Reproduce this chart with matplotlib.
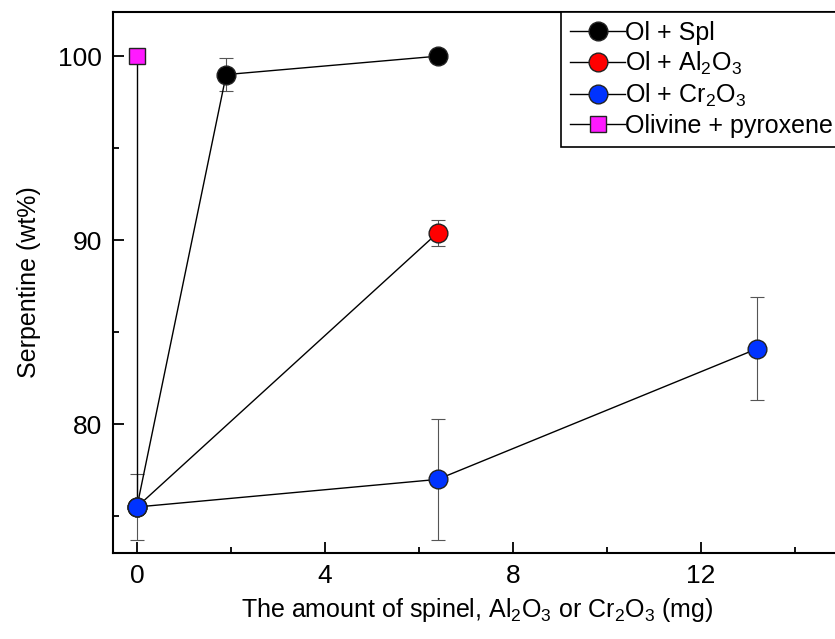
import matplotlib.pyplot as plt

plt.rcParams['font.family'] = ['Liberation Sans', 'DejaVu Sans']

# data
spl_x = [0, 1.9, 6.4]
spl_y = [75.5, 99.0, 100.0]
spl_err = [0, 0.9, 0]

al_x = [0, 6.4]
al_y = [75.5, 90.4]
al_err = [0, 0.7]

cr_x = [0, 6.4, 13.2]
cr_y = [75.5, 77.0, 84.1]
cr_err = [1.8, 3.3, 2.8]

px_x = [0, 0]
px_y = [100.0, 75.5]

fig = plt.figure(figsize=(8.35, 6.39), dpi=100)
ax = fig.add_axes([0.1353, 0.1346, 1.008 - 0.1353, 0.9812 - 0.1346])

sub = r'$\mathregular{_{%s}}$'
lab_al = 'Ol + Al' + sub % '2' + 'O' + sub % '3'
lab_cr = 'Ol + Cr' + sub % '2' + 'O' + sub % '3'

def draw(x, y, err, color, marker, label, ms=13.5):
    if err is not None:
        ax.errorbar(x, y, yerr=err, fmt='none', ecolor='#555555', elinewidth=0.8,
                    capsize=5, capthick=0.8, zorder=1)
    ax.plot(x, y, color='black', lw=1, marker=marker, ms=ms, mfc=color,
            mec='#222222', mew=1, label=label, zorder=3)

# draw in reverse order so the start point looks like the reference
draw(px_x, px_y, None, '#ff1aff', 's', 'Olivine + pyroxene', ms=11)
draw(al_x, al_y, al_err, '#ff0000', 'o', lab_al)
draw(spl_x, spl_y, spl_err, '#000000', 'o', 'Ol + Spl')
draw(cr_x, cr_y, cr_err, '#0033ff', 'o', lab_cr)
# the pyroxene square marker only at 100
ax.lines[0].set_markevery([0])

ax.set_xlim(-0.51, 15)
ax.set_ylim(73.0, 102.4)
ax.set_xticks([0, 4, 8, 12])
ax.set_xticks([2, 6, 10, 14], minor=True)
ax.set_yticks([80, 90, 100])
ax.set_yticks([75, 85, 95], minor=True)
ax.tick_params(which='both', direction='in', labelsize=19, width=1.3)
ax.tick_params(which='major', length=8, pad=8)
ax.tick_params(which='minor', length=4)
for s in ax.spines.values():
    s.set_linewidth(1.5)

ax.set_xlabel('The amount of spinel, Al' + sub % '2' + 'O' + sub % '3' + ' or Cr'
              + sub % '2' + 'O' + sub % '3' + ' (mg)', fontsize=18, labelpad=6)
ax.set_ylabel('Serpentine (wt%)', fontsize=18, labelpad=12)

handles, labels = ax.get_legend_handles_labels()
order = [2, 1, 3, 0]
leg = ax.legend([handles[i] for i in order], [labels[i] for i in order],
                loc='upper right', bbox_to_anchor=(1.0, 1.0),
                borderaxespad=0, fancybox=False,
                edgecolor='black', fontsize=18, handlelength=2.2, handletextpad=0.0,
                labelspacing=0.2, borderpad=0.35, framealpha=1)
leg.get_frame().set_linewidth(1.2)

fig.savefig('out.png', dpi=100)
